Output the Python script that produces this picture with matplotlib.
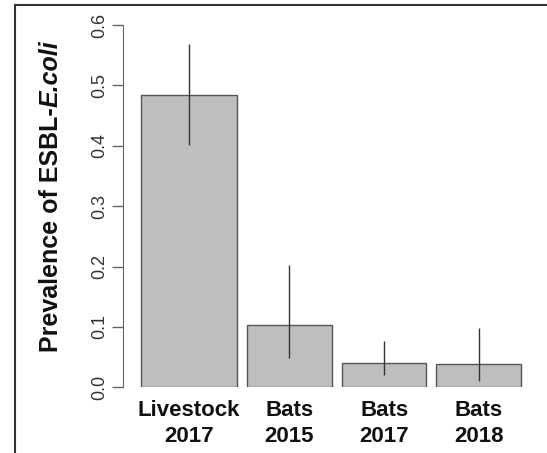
import numpy as np
import matplotlib.pyplot as plt
from matplotlib.lines import Line2D

plt.rcParams['font.family'] = ['Liberation Sans', 'DejaVu Sans']

# data
groups = ["Livestock\n2017", "Bats\n2015", "Bats\n2017", "Bats\n2018"]
prevalence = [0.484, 0.103, 0.040, 0.038]
ci_low = [0.401, 0.048, 0.020, 0.011]
ci_high = [0.568, 0.202, 0.077, 0.098]
yticks = [0.0, 0.1, 0.2, 0.3, 0.4, 0.5, 0.6]

# bar layout (first bar is a bit wider)
widths = np.array([1.14, 1, 1, 1])
gap = 0.12
lefts = np.concatenate([[0], np.cumsum(widths[:-1] + gap)])
centers = lefts + widths / 2

W, H = 547, 453
fig = plt.figure(figsize=(W / 100, H / 100), dpi=100)
ax = fig.add_axes([123.3 / W, 65.7 / H, 414.6 / W, 362.3 / H])

ax.bar(lefts, prevalence, width=widths, align='edge', color='#bebebe',
       edgecolor='#555555', linewidth=1)
ax.vlines(centers, ci_low, ci_high, color='#333333', linewidth=1)

ax.set_xlim(-0.206, 4.7)
ax.set_ylim(0, 0.6)
for s in ['top', 'right', 'bottom']:
    ax.spines[s].set_visible(False)
ax.spines['left'].set_color('#666666')

ax.set_yticks(yticks)
ax.set_yticklabels([f"{v:.1f}" for v in yticks], rotation=90, va='center')
ax.tick_params(axis='y', length=8, width=1, color='#666666', labelsize=13,
               labelcolor='#333333', pad=3)

ax.set_xticks(centers)
ax.set_xticklabels(groups, fontweight='bold', linespacing=1.3)
ax.tick_params(axis='x', length=0, labelsize=16, pad=9, labelcolor='#111111')

# y label: bold part + bold italic species name
t1 = fig.text(57.5 / W, 101 / H, "Prevalence of ESBL-", rotation=90,
              rotation_mode='anchor', ha='left', va='baseline', fontsize=18,
              fontweight='bold', color='#111111')
fig.canvas.draw()
top = t1.get_window_extent().y1
fig.text(57.5 / W, top / H, "E.coli", rotation=90, rotation_mode='anchor',
         ha='left', va='baseline', fontsize=18, fontweight='bold',
         fontstyle='italic', color='#111111')

# outer frame (left and top edges)
fig.add_artist(Line2D([15 / W, 15 / W], [0, 1 - 4.8 / H], transform=fig.transFigure,
                      color='#333333', linewidth=1.5))
fig.add_artist(Line2D([15 / W, 1], [1 - 4.8 / H, 1 - 4.8 / H], transform=fig.transFigure,
                      color='#333333', linewidth=1.5))

fig.savefig("out.png", dpi=100)
